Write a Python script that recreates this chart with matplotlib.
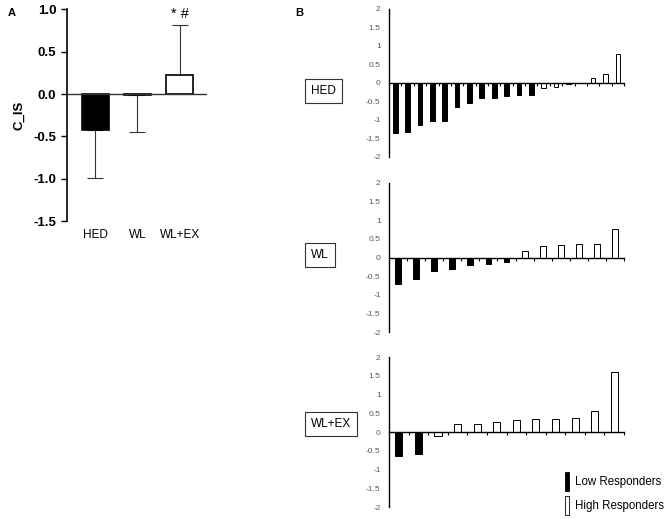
import numpy as np
import matplotlib
matplotlib.use('Agg')
import matplotlib.pyplot as plt

plt.rcParams['font.family'] = ['Liberation Sans', 'DejaVu Sans']

# Panel A: group means and SD
groups = ['HED', 'WL', 'WL+EX']
means = [-0.42, -0.01, 0.23]
err_lo = [0.57, 0.44, 0.0]
err_hi = [0.0, 0.0, 0.58]

# Panel B: individual responses, sorted
hed_vals = [-1.36, -1.33, -1.13, -1.03, -1.02, -0.66, -0.55, -0.40, -0.40, -0.36,
            -0.33, -0.32, -0.14, -0.10, -0.04, 0.0, 0.14, 0.23, 0.79]
hed_low = 12
wl_vals = [-0.70, -0.59, -0.35, -0.31, -0.20, -0.17, -0.13, 0.18, 0.31, 0.34, 0.35, 0.35, 0.77]
wl_low = 7
wlex_vals = [-0.63, -0.58, -0.10, 0.21, 0.21, 0.28, 0.32, 0.35, 0.36, 0.37, 0.56, 1.61]
wlex_low = 2

fig = plt.figure(figsize=(6.69, 5.19), dpi=100)

# ---- Panel A ----
axA = fig.add_axes([0.100, 0.574, 0.209, 0.408])
colors = ['black', 'white', 'white']
x = np.arange(len(groups))
axA.bar(x, means, width=0.64, color=colors, edgecolor='black', linewidth=1.2, zorder=2)
axA.errorbar(x, means, yerr=[err_lo, err_hi], fmt='none', ecolor='#333333',
             elinewidth=0.8, capsize=6, capthick=0.8, zorder=1)
axA.axhline(0, color='#333333', lw=1.0, zorder=3)
axA.set_xlim(-0.67, 2.64)
axA.set_ylim(-1.5, 1.0)
axA.set_yticks([1.0, 0.5, 0.0, -0.5, -1.0, -1.5])
axA.set_yticklabels(['1.0', '0.5', '0.0', '-0.5', '-1.0', '-1.5'], fontweight='bold', fontsize=9.5)
axA.set_xticks(x)
axA.set_xticklabels(groups, fontsize=8.5)
axA.tick_params(axis='x', length=0, pad=6)
axA.tick_params(axis='y', length=4, width=1.0)
for s in ['top', 'right', 'bottom']:
    axA.spines[s].set_visible(False)
axA.spines['left'].set_linewidth(1.2)
axA.set_ylabel('C_IS', fontweight='bold', fontsize=9.5, labelpad=6)
axA.text(2, 0.86, '* #', ha='center', va='bottom', fontsize=10.5)
fig.text(0.012, 0.985, 'A', fontweight='bold', fontsize=8, va='top')
fig.text(0.441, 0.985, 'B', fontweight='bold', fontsize=8, va='top')

# ---- Panel B ----
def resp_panel(rect, vals, n_low, width, label, label_y):
    ax = fig.add_axes(rect)
    n = len(vals)
    pos = np.arange(n) + 0.5
    cols = ['black'] * n_low + ['white'] * (n - n_low)
    ax.bar(pos, vals, width=width, color=cols, edgecolor='black', linewidth=0.7)
    ax.set_xlim(0, n)
    ax.set_ylim(-2, 2)
    ax.set_yticks([2, 1.5, 1, 0.5, 0, -0.5, -1, -1.5, -2])
    ax.set_yticklabels(['2', '1.5', '1', '0.5', '0', '-0.5', '-1', '-1.5', '-2'],
                       fontsize=6, color='#595959')
    ax.tick_params(axis='y', length=0, pad=6)
    ax.set_xticks(np.arange(1, n + 1))
    ax.set_xticklabels([])
    ax.tick_params(axis='x', direction='out', length=2.5, width=0.8)
    ax.spines['bottom'].set_position(('data', 0))
    for s in ['top', 'right']:
        ax.spines[s].set_visible(False)
    ax.spines['left'].set_linewidth(1.0)
    ax.spines['bottom'].set_linewidth(1.0)
    fig.text(0.465, label_y, label, fontsize=8.5, va='center', ha='left',
             bbox=dict(boxstyle='square,pad=0.5', fc='white', ec='#333333', lw=0.8))
    return ax

resp_panel([0.5815, 0.6975, 0.3513, 0.2852], hed_vals, hed_low, 0.38, 'HED', 1 - 91 / 519)
resp_panel([0.5815, 0.3603, 0.3513, 0.2871], wl_vals, wl_low, 0.32, 'WL', 1 - 255 / 519)
resp_panel([0.5815, 0.0231, 0.3513, 0.2890], wlex_vals, wlex_low, 0.36, 'WL+EX', 1 - 424 / 519)

# legend
fig.patches.append(plt.Rectangle((0.8445, 1 - 491 / 519), 0.006, 0.036, transform=fig.transFigure,
                                 fc='black', ec='black', lw=0.6))
fig.patches.append(plt.Rectangle((0.8445, 1 - 515 / 519), 0.006, 0.036, transform=fig.transFigure,
                                 fc='white', ec='black', lw=0.6))
fig.text(0.860, 1 - 482 / 519, 'Low Responders', fontsize=8.3, va='center')
fig.text(0.860, 1 - 506 / 519, 'High Responders', fontsize=8.3, va='center')

fig.savefig('out.png', dpi=100)
